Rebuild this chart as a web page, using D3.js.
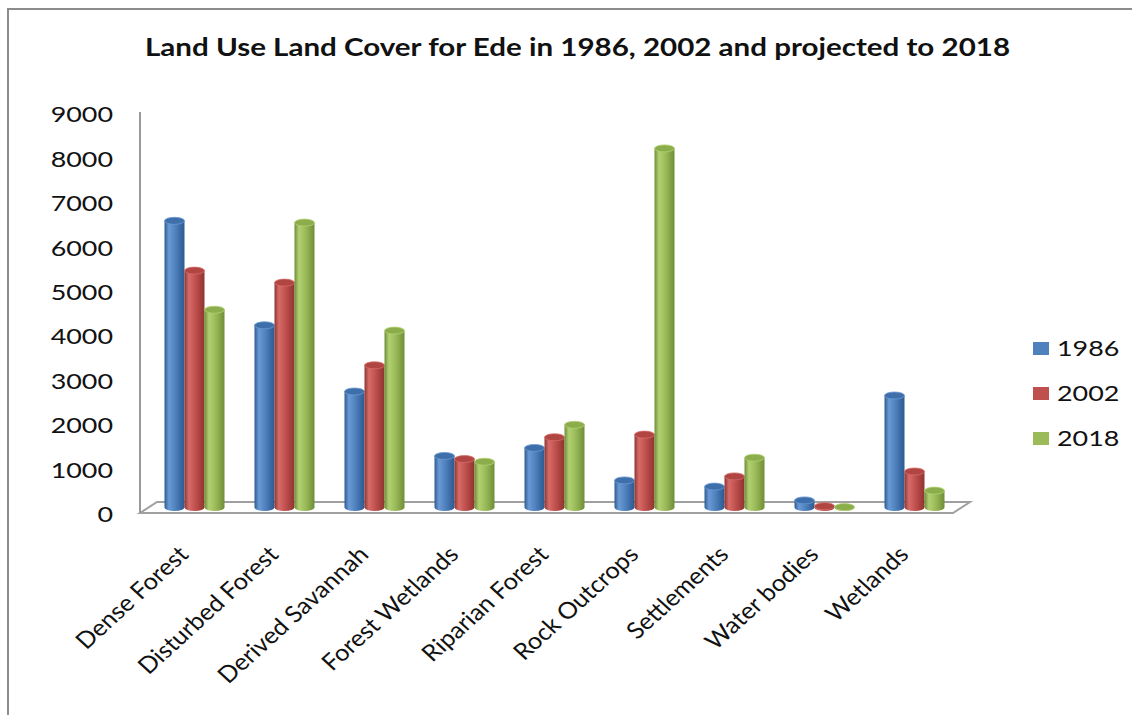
<!DOCTYPE html>
<html>
<head>
<meta charset="utf-8">
<script src="https://cdn.jsdelivr.net/npm/d3@7"></script>
<style>
  html, body { margin: 0; padding: 0; background: #ffffff; }
  svg { display: block; }
  text { font-family: Lato, "Open Sans", "DejaVu Sans", sans-serif; fill: #111; }
</style>
</head>
<body>
<svg id="chart" width="1132" height="715"></svg>
<script>
const title = "Land Use Land Cover for Ede in 1986, 2002 and projected to 2018";
const categories = ["Dense Forest", "Disturbed Forest", "Derived Savannah", "Forest Wetlands",
  "Riparian Forest", "Rock Outcrops", "Settlements", "Water bodies", "Wetlands"];
const years = ["1986", "2002", "2018"];
const values1986 = [6450, 4100, 2610, 1160, 1340, 610, 470, 160, 2520];
const values2002 = [5330, 5060, 3200, 1090, 1580, 1640, 700, 30, 810];
const values2018 = [4450, 6410, 3980, 1030, 1860, 8080, 1120, 10, 380];
const yTicks = [0, 1000, 2000, 3000, 4000, 5000, 6000, 7000, 8000, 9000];

const seriesValues = [values1986, values2002, values2018];
const colors = [
  { base: "#4F81BD", dark: "#2E5A8F", light: "#6A9AD6", top: "#3F6FAA", edge: "#34639C" },
  { base: "#C0504D", dark: "#8E3532", light: "#D66C69", top: "#B04542", edge: "#9C3B38" },
  { base: "#9BBB59", dark: "#6E8D38", light: "#B2D071", top: "#8CAD4C", edge: "#7A9A40" }
];

const SX = 1.25;          // horizontal stretch of the picture
const LSX = 1.1;          // stretch for rotated category labels
const depthX = 17, depthY = 11;

const svg = d3.select("#chart");
const defs = svg.append("defs");
colors.forEach((c, i) => {
  const g = defs.append("linearGradient").attr("id", "cyl" + i)
    .attr("x1", "0%").attr("x2", "100%").attr("y1", "0%").attr("y2", "0%");
  g.append("stop").attr("offset", "0%").attr("stop-color", c.dark);
  g.append("stop").attr("offset", "22%").attr("stop-color", c.light);
  g.append("stop").attr("offset", "55%").attr("stop-color", c.base);
  g.append("stop").attr("offset", "88%").attr("stop-color", c.edge);
  g.append("stop").attr("offset", "100%").attr("stop-color", c.dark);
});

// outer border
svg.append("path").attr("d", "M8,715 L8,9 L1132,9")
  .attr("fill", "none").attr("stroke", "#8c8c8c").attr("stroke-width", 2);

// title
svg.append("text")
  .attr("transform", `translate(577.5,56) scale(${SX},1)`)
  .attr("text-anchor", "middle")
  .attr("font-weight", "bold")
  .attr("font-size", 24.5)
  .attr("textLength", 865 / SX)
  .attr("lengthAdjust", "spacingAndGlyphs")
  .text(title);

const x = d3.scaleBand().domain(categories).range([141, 951]);
const xs = d3.scaleBand().domain(years).range([0, 60]);
const y = d3.scaleLinear().domain([0, 9000]).range([513, 113]);

// y axis line
svg.append("line").attr("x1", 140).attr("x2", 140).attr("y1", y(9000) - 1).attr("y2", y(0))
  .attr("stroke", "#999").attr("stroke-width", 2);

// floor
const x0 = x.range()[0] - 1, x1 = x.range()[1] + 2;
svg.append("path")
  .attr("d", `M${x0},${y(0)} L${x1},${y(0)} L${x1 + depthX},${y(0) - depthY} L${x0 + depthX},${y(0) - depthY} Z`)
  .attr("fill", "none").attr("stroke", "#a0a0a0").attr("stroke-width", 2);

// y tick labels
const yAxis = d3.axisLeft(y).tickValues(yTicks).tickSize(0).tickFormat(d3.format("d"));
const ax = svg.append("g").attr("transform", "translate(113,1)").call(yAxis);
ax.select(".domain").remove();
ax.selectAll("text")
  .attr("x", 0).attr("dy", "0.36em")
  .attr("transform", `scale(${SX},1)`)
  .attr("font-size", 21.5)
  .attr("font-family", "Lato, 'Open Sans', sans-serif")
  .attr("fill", "#111")
  .attr("text-anchor", "end");

// bars (cylinders)
const baseShift = depthY / 2;
const ry = 3.5;
const barData = [];
categories.forEach((c, ci) => {
  years.forEach((yr, si) => {
    barData.push({ c, si, v: seriesValues[si][ci] });
  });
});
const bars = svg.append("g").selectAll("g.bar").data(barData).join("g").attr("class", "bar");
bars.each(function (d) {
  const g = d3.select(this);
  const left = x(d.c) + x.bandwidth() / 2 + depthX / 2 - 30 + xs(years[d.si]);
  const w = xs.bandwidth();
  const rx = w / 2;
  const b = y(0) - baseShift;
  const t = y(d.v) - baseShift;
  g.append("path")
    .attr("d", `M${left},${t} L${left},${b} A${rx},${ry} 0 0 0 ${left + w},${b} L${left + w},${t} Z`)
    .attr("fill", `url(#cyl${d.si})`);
  g.append("ellipse")
    .attr("cx", left + rx).attr("cy", t).attr("rx", rx).attr("ry", ry)
    .attr("fill", colors[d.si].top)
    .attr("stroke", colors[d.si].light).attr("stroke-width", 0.8);
});

// category labels
svg.append("g").selectAll("text").data(categories).join("text")
  .attr("transform", d => `translate(${x(d) + x.bandwidth() / 2 + 4},556) scale(${LSX},1) rotate(-45)`)
  .attr("text-anchor", "end")
  .attr("font-size", 23)
  .text(d => d);

// legend
const legend = svg.append("g").selectAll("g").data(years).join("g")
  .attr("transform", (d, i) => `translate(1033,${348.5 + i * 45})`);
legend.append("rect").attr("x", 0).attr("y", -6.5).attr("width", 16).attr("height", 13)
  .attr("fill", (d, i) => colors[i].base);
legend.append("text")
  .attr("transform", `translate(24,0) scale(${SX},1)`)
  .attr("dy", "0.36em")
  .attr("font-size", 21.5)
  .text(d => d);
</script>
</body>
</html>
